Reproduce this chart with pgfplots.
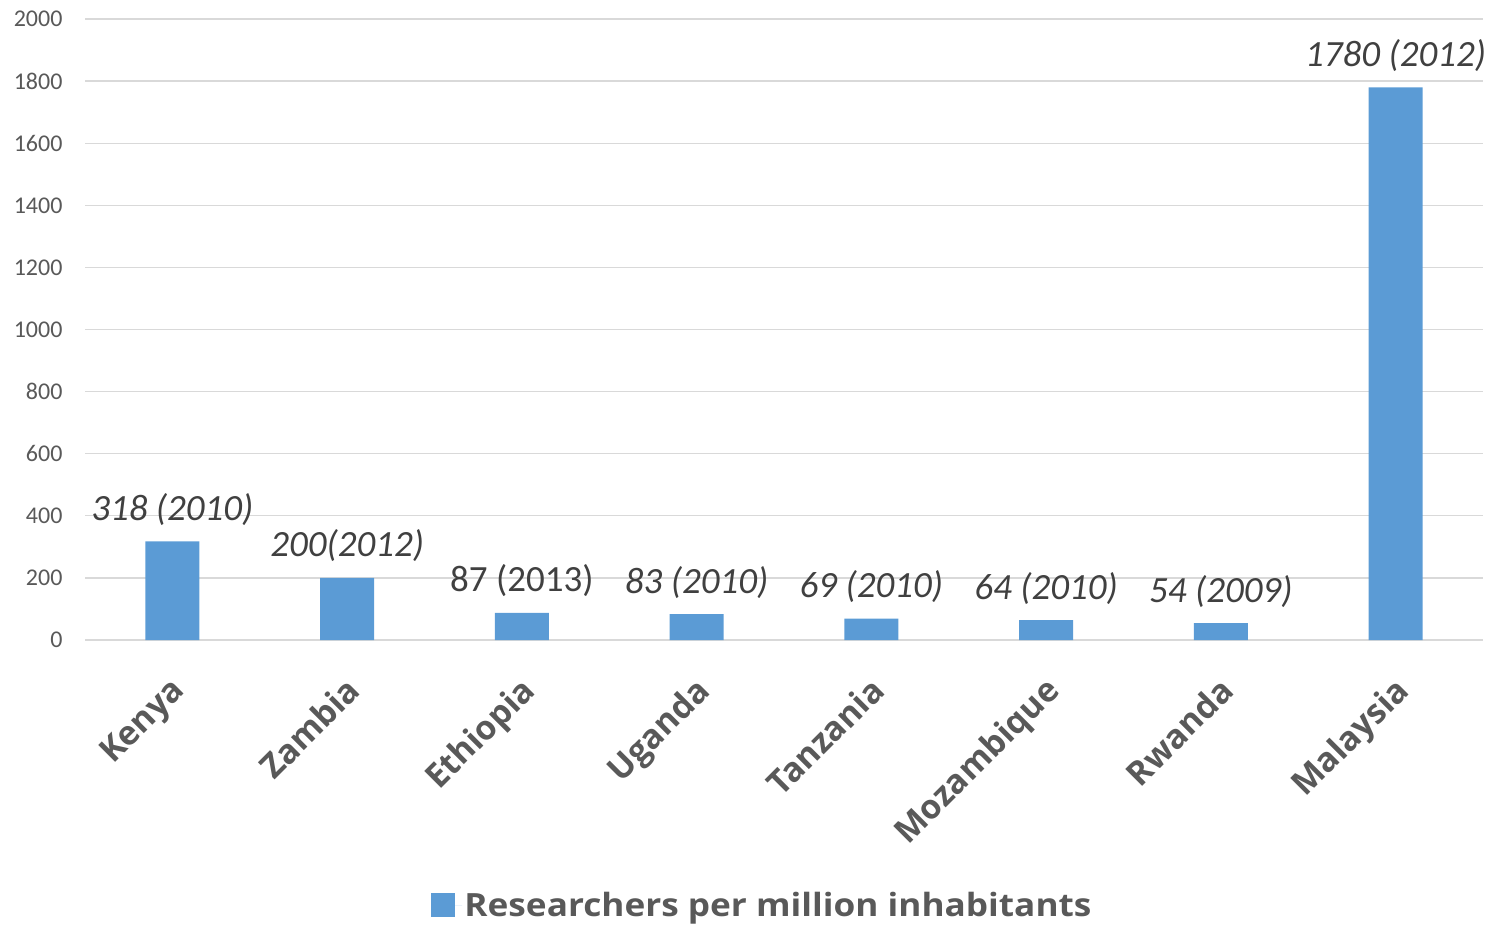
\documentclass[border=0pt]{standalone}
\usepackage{fontspec}
\setmainfont{Carlito}
\newfontfamily\labfont{Open Sans}
\usepackage{pgfplots}
\usepackage{pgfplotstable}
\pgfplotsset{compat=1.18}
\definecolor{barblue}{HTML}{5B9BD5}
\definecolor{gridgray}{HTML}{D9D9D9}
\definecolor{txtgray}{HTML}{595959}
\definecolor{lblgray}{HTML}{404040}
\pgfplotstableread[col sep=comma]{
x,y,label
0,318,318 (2010)
1,200,200(2012)
2,87,\upshape 87 (2013)
3,83,83 (2010)
4,69,69 (2010)
5,64,64 (2010)
6,54,54 (2009)
7,1780,1780 (2012)
}\datatable
\begin{document}
\begin{tikzpicture}
\path[use as bounding box] (-85bp,-287bp) rectangle (1408bp,640bp);
\begin{axis}[
  scale only axis,
  width=1398bp, height=621bp,
  xmin=-0.5, xmax=7.5,
  ymin=0, ymax=2000,
  ytick={0,200,...,2000},
  xtick={0,...,7},
  xticklabels={Kenya,Zambia,Ethiopia,Uganda,Tanzania,Mozambique,Rwanda,Malaysia},
  axis line style={draw=none},
  major tick length=0pt,
  ymajorgrids,
  grid style={gridgray, line width=1.3bp},
  /pgf/number format/assume math mode=true,
  /pgf/number format/1000 sep={},
  yticklabel style={font=\fontsize{24bp}{28bp}\selectfont, text=txtgray, xshift=-19bp},
  xticklabel style={xshift=-3bp, yshift=-30bp, rotate=45, anchor=north east,
    font=\labfont\bfseries\fontsize{33.5bp}{38bp}\selectfont, text=txtgray},
  legend style={at={(0.4846,-0.427)}, anchor=center, draw=none, fill=none,
    font=\labfont\bfseries\fontsize{32bp}{36bp}\selectfont, text=txtgray,
    inner sep=0pt, nodes={xscale=1.1}},
  legend image code/.code={\fill[barblue] (0bp,-12bp) rectangle (24bp,12bp);
    \path (0bp,0bp) -- (31bp,0bp);},
  nodes near coords,
  point meta=explicit symbolic,
  every node near coord/.append style={anchor=base, yshift=21bp,
    font=\itshape\fontsize{37bp}{42bp}\selectfont, text=lblgray},
]
\addplot[ybar, bar width=54bp, fill=barblue, draw=none] table[x=x, y=y, meta=label] {\datatable};
\addlegendentry{Researchers per million inhabitants}
\end{axis}
\end{tikzpicture}
\end{document}
